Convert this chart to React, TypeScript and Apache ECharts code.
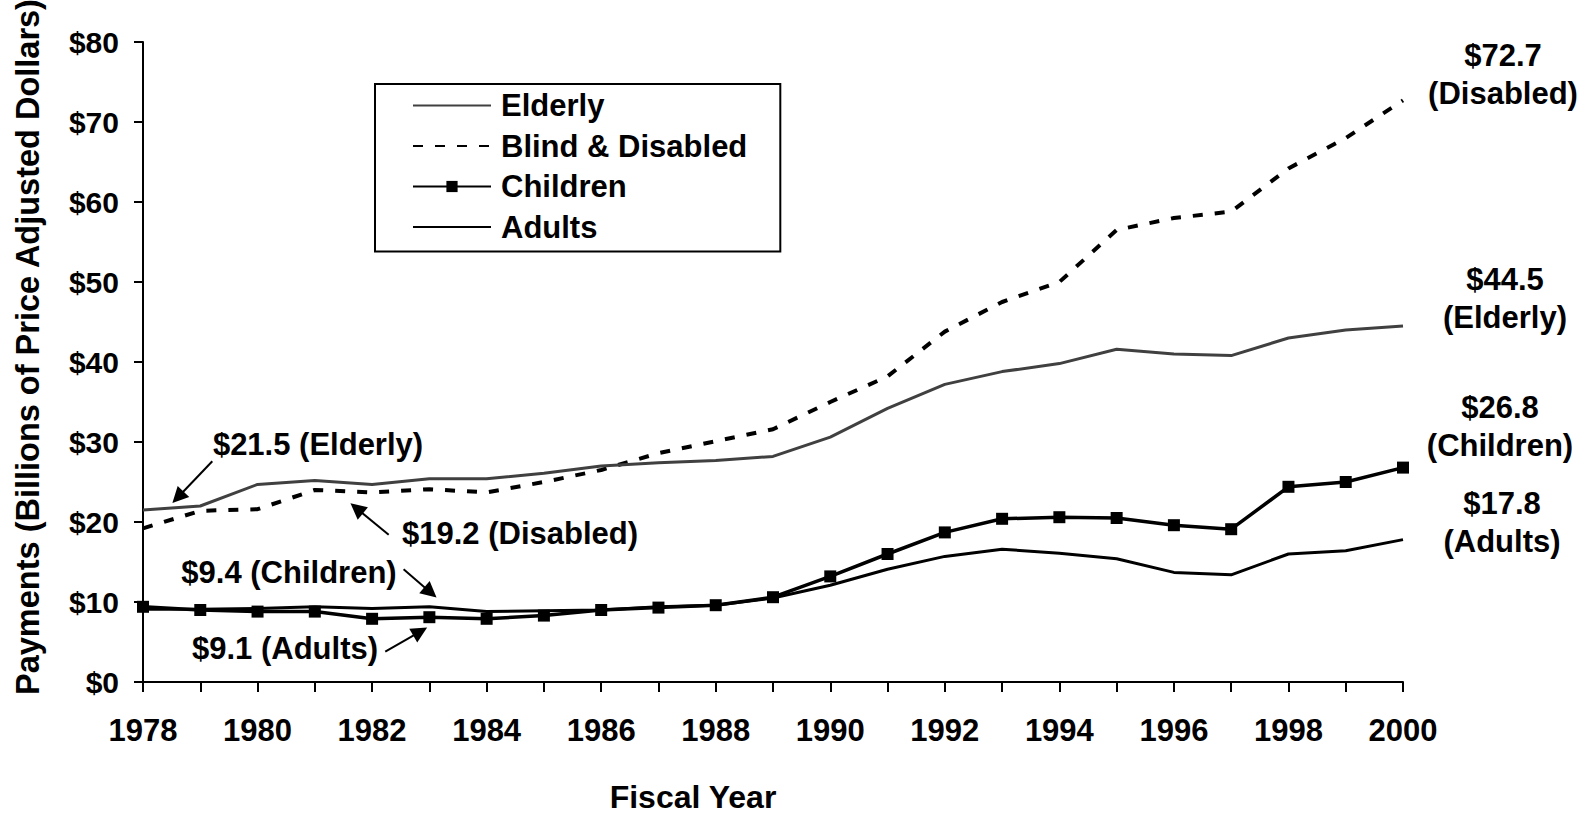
import React, { useEffect, useRef } from "react";
import * as echarts from "echarts";

const years = [1978, 1979, 1980, 1981, 1982, 1983, 1984, 1985, 1986, 1987, 1988, 1989, 1990, 1991, 1992, 1993, 1994, 1995, 1996, 1997, 1998, 1999, 2000];
const elderly = [21.5, 22.0, 24.7, 25.2, 24.7, 25.4, 25.4, 26.1, 27.0, 27.4, 27.7, 28.2, 30.6, 34.2, 37.2, 38.8, 39.8, 41.6, 41.0, 40.8, 43.0, 44.0, 44.5];
const disabled = [19.2, 21.4, 21.6, 24.0, 23.7, 24.1, 23.7, 25.0, 26.5, 28.6, 30.1, 31.6, 35.0, 38.2, 43.8, 47.5, 50.0, 56.5, 58.0, 58.8, 64.2, 68.0, 72.7];
const children = [9.4, 9.0, 8.8, 8.8, 7.9, 8.1, 7.9, 8.3, 9.0, 9.3, 9.6, 10.6, 13.2, 16.0, 18.7, 20.4, 20.6, 20.5, 19.6, 19.1, 24.4, 25.0, 26.8];
const adults = [9.1, 9.1, 9.2, 9.4, 9.2, 9.4, 8.8, 8.9, 9.0, 9.4, 9.6, 10.5, 12.1, 14.1, 15.7, 16.6, 16.1, 15.4, 13.7, 13.4, 16.0, 16.4, 17.8];

const seriesNames = ["Elderly", "Blind & Disabled", "Children", "Adults"];
const yTickValues = [0, 10, 20, 30, 40, 50, 60, 70, 80];

// arrow annotations: [start, arrow-head] in data coordinates
const arrows = [
  [[1979.21, 27.6], [1978.61, 23.1]],
  [[1982.29, 18.4], [1981.73, 21.7]],
  [[1982.55, 14.1], [1983.02, 11.2]],
  [[1982.23, 3.8], [1982.84, 6.3]],
];

const FONT = "'Liberation Sans', Arial, sans-serif";

const pairs = (vals: number[]) => years.map((y, i) => [y, vals[i]]);

export default function App() {
  const ref = useRef<HTMLDivElement>(null);
  useEffect(() => {
    if (!ref.current) return;
    const chart = echarts.init(ref.current, undefined, { renderer: "svg" });
    const txt = (text: string, x: number, y: number, extra: any = {}) => ({
      type: "text",
      x,
      y,
      silent: true,
      ...extra,
      style: {
        text,
        fill: "#000",
        fontFamily: FONT,
        fontWeight: "bold",
        fontSize: 31,
        align: "center",
        verticalAlign: "middle",
        lineHeight: 38,
        ...(extra.style || {}),
      },
    });
    chart.setOption({
      animation: false,
      backgroundColor: "#fff",
      grid: { left: 143, right: 186, top: 42, bottom: 132 },
      legend: {
        data: [
          { name: seriesNames[0], itemStyle: { opacity: 0 } },
          { name: seriesNames[1], itemStyle: { opacity: 0 } },
          { name: seriesNames[2] },
          { name: seriesNames[3], itemStyle: { opacity: 0 } },
        ],
        orient: "vertical",
        left: 375,
        top: 84,
        itemWidth: 78,
        itemHeight: 14,
        itemGap: 9.5,
        padding: [6, 33, 9, 37],
        borderColor: "#000",
        borderWidth: 2,
        selectedMode: false,
        textStyle: {
          fontFamily: FONT,
          fontWeight: "bold",
          fontSize: 31,
          color: "#000",
          lineHeight: 30,
          padding: [0, 0, 0, 5],
        },
      },
      xAxis: {
        type: "value",
        min: 1978,
        max: 2000,
        interval: 1,
        axisLine: { show: true, lineStyle: { color: "#000", width: 2 } },
        axisTick: { show: true, length: 10, lineStyle: { color: "#000", width: 2 } },
        splitLine: { show: false },
        axisLabel: {
          margin: 33,
          color: "#000",
          fontFamily: FONT,
          fontWeight: "bold",
          fontSize: 31,
          formatter: (v: number) => (v % 2 === 0 ? String(v) : ""),
        },
      },
      yAxis: {
        type: "value",
        min: yTickValues[0],
        max: yTickValues[yTickValues.length - 1],
        interval: 10,
        axisLine: { show: true, lineStyle: { color: "#000", width: 2 } },
        axisTick: { show: true, length: 9, lineStyle: { color: "#000", width: 2 } },
        splitLine: { show: false },
        axisLabel: {
          margin: 24,
          color: "#000",
          fontFamily: FONT,
          fontWeight: "bold",
          fontSize: 30,
          formatter: (v: number) => "$" + v,
        },
      },
      series: [
        {
          name: seriesNames[0],
          type: "line",
          data: pairs(elderly),
          symbol: "none",
          color: "#404040",
          lineStyle: { color: "#404040", width: 3 },
          z: 3,
          markLine: {
            silent: true,
            symbol: ["none", "triangle"],
            symbolSize: 16,
            label: { show: false },
            itemStyle: { color: "#000" },
            lineStyle: { color: "#000", width: 2, type: "solid" },
            emphasis: { disabled: true },
            data: arrows.map((a) => [
              { coord: a[0], symbol: "none" },
              { coord: a[1], symbol: "triangle", symbolSize: 16 },
            ]),
          },
        },
        {
          name: seriesNames[1],
          type: "line",
          data: pairs(disabled),
          symbol: "none",
          color: "#000",
          lineStyle: { color: "#000", width: 4, type: [10, 12] },
          z: 2,
        },
        {
          name: seriesNames[2],
          type: "line",
          data: pairs(children),
          symbol: "rect",
          symbolSize: 12,
          showSymbol: true,
          color: "#000",
          itemStyle: { color: "#000" },
          lineStyle: { color: "#000", width: 3.5 },
          z: 4,
        },
        {
          name: seriesNames[3],
          type: "line",
          data: pairs(adults),
          symbol: "none",
          color: "#000",
          lineStyle: { color: "#000", width: 3 },
          z: 3,
        },
      ],
      graphic: [
        txt("Payments (Billions of Price Adjusted Dollars)", 28, 347, { rotation: Math.PI / 2, style: { fontSize: 32.5, lineHeight: 34 } }),
        txt("Fiscal Year", 693, 797, { style: { fontSize: 32, lineHeight: 30 } }),
        txt("$72.7\n(Disabled)", 1503, 74),
        txt("$44.5\n(Elderly)", 1505, 298),
        txt("$26.8\n(Children)", 1500, 426),
        txt("$17.8\n(Adults)", 1502, 522),
        txt("$21.5 (Elderly)", 318, 444, { style: { lineHeight: 32 } }),
        txt("$19.2 (Disabled)", 520, 533, { style: { lineHeight: 32 } }),
        txt("$9.4 (Children)", 289, 572, { style: { lineHeight: 32 } }),
        txt("$9.1 (Adults)", 285, 648, { style: { lineHeight: 32 } }),
      ],
    });
    return () => chart.dispose();
  }, []);
  return (
    <div
      ref={ref}
      style={{ position: "fixed", left: 0, top: 0, width: 1589, height: 814, background: "#fff" }}
    />
  );
}
